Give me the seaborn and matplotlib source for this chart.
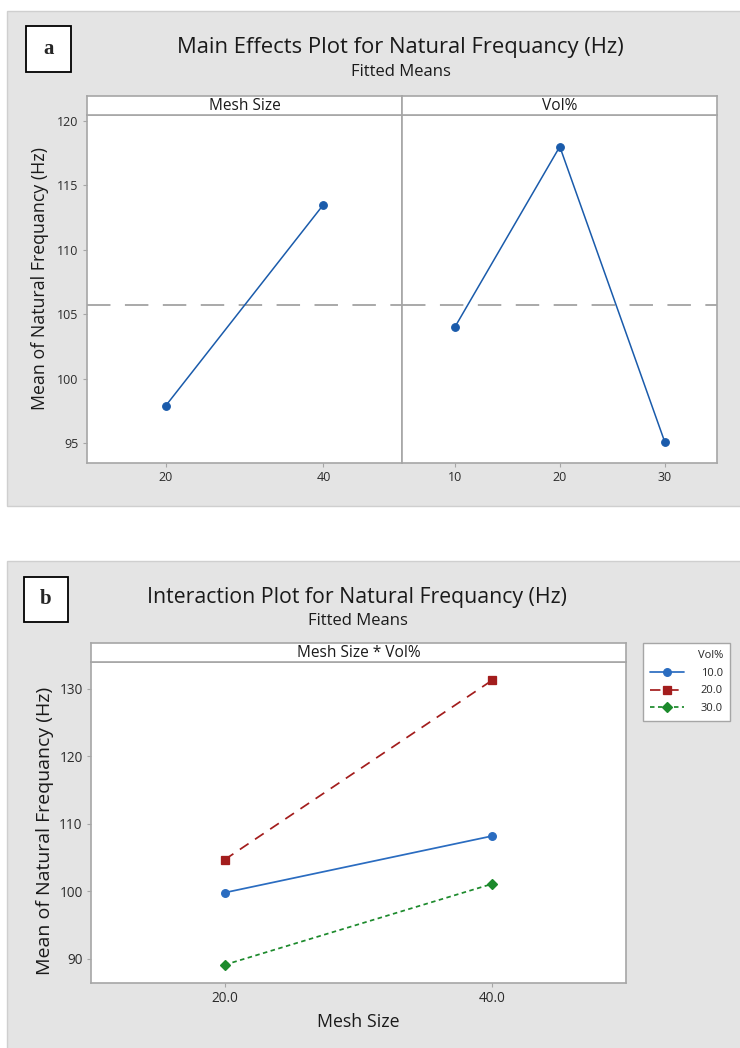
import numpy as np
import pandas as pd
import matplotlib
matplotlib.use("Agg")
import matplotlib.pyplot as plt
from matplotlib.patches import Rectangle
import seaborn as sns

# ---- data -------------------------------------------------------------
mesh_levels = ["20", "40"]
mesh_means = [97.9, 113.5]

vol_levels = ["10", "20", "30"]
vol_means = [104.0, 118.0, 95.1]

mesh_levels_b = ["20.0", "40.0"]
vol_levels_b = ["10.0", "20.0", "30.0"]
freq_vol10 = [99.8, 108.2]
freq_vol20 = [104.7, 131.3]
freq_vol30 = [89.1, 101.1]

yticks_a = [95, 100, 105, 110, 115, 120]
yticks_b = [90, 100, 110, 120, 130]

# ---- style ------------------------------------------------------------
sns.set_theme(style="white")
FONT = ["Open Sans", "DejaVu Sans"]
plt.rcParams["font.family"] = FONT
plt.rcParams["axes.edgecolor"] = "#a6a6a6"
plt.rcParams["axes.linewidth"] = 1.2

W, H = 740, 1048
fig = plt.figure(figsize=(W / 100, H / 100), dpi=100, facecolor="white")


def fx(x):
    return x / W


def fy(y):
    return 1 - y / H


def box(x0, y0, x1, y1):
    return [fx(x0), fy(y1), fx(x1) - fx(x0), fy(y0) - fy(y1)]


PANEL_BG = "#e4e4e4"
SPINE = "#a6a6a6"
TICK_TXT = "#2b2b2b"
TXT = "#1a1a1a"

# grey panel backgrounds
for (x0, y0, x1, y1) in [(7, 11, 742, 506), (7, 561, 742, 1050)]:
    fig.patches.append(Rectangle((fx(x0), fy(y1)), fx(x1) - fx(x0), fy(y0) - fy(y1),
                                 transform=fig.transFigure, facecolor=PANEL_BG,
                                 edgecolor="#cfcfcf", linewidth=1.0, zorder=-10))

# panel letters
for letter, (x0, y0, x1, y1) in [("a", (26, 26, 71, 72)), ("b", (24, 577, 68, 622))]:
    fig.patches.append(Rectangle((fx(x0), fy(y1)), fx(x1) - fx(x0), fy(y0) - fy(y1),
                                 transform=fig.transFigure, facecolor="white",
                                 edgecolor="black", linewidth=1.3, zorder=-5))
    fig.text(fx((x0 + x1) / 2), fy((y0 + y1) / 2), letter, ha="center", va="center",
             fontsize=15, fontweight="bold", family="Liberation Serif")


def style_axes(ax, tick_size):
    ax.set_facecolor("white")
    for s in ax.spines.values():
        s.set_color(SPINE)
        s.set_linewidth(1.2)
    ax.tick_params(axis="both", which="both", length=3, width=0.8, color=SPINE,
                   labelsize=tick_size, labelcolor=TICK_TXT, pad=3,
                   bottom=True, left=True)
    ax.set_xlabel("")
    ax.set_ylabel("")


def strip(x0, y0, x1, y1, text):
    sax = fig.add_axes(box(x0, y0, x1, y1))
    sax.set_facecolor("white")
    sax.set_xticks([])
    sax.set_yticks([])
    for s in sax.spines.values():
        s.set_color(SPINE)
        s.set_linewidth(1.2)
    sax.text(0.5, 0.47, text, ha="center", va="center", fontsize=11.2,
             color=TXT, transform=sax.transAxes)


# ---- panel a: main effects ----------------------------------------------
fig.text(fx(400), fy(47), "Main Effects Plot for Natural Frequancy (Hz)",
         ha="center", va="center", fontsize=15.8, color=TXT)
fig.text(fx(401), fy(72), "Fitted Means", ha="center", va="center",
         fontsize=12, color=TXT)

ax1 = fig.add_axes(box(86.7, 115, 402.3, 462.7))
ax2 = fig.add_axes(box(402.3, 115, 717.3, 462.7), sharey=ax1)
strip(86.7, 96, 402.3, 115, "Mesh Size")
strip(402.3, 96, 717.3, 115, "Vol%")

LINE_BLUE = "#1a5bab"
grand_mean = float(np.mean(mesh_means))

for ax, lev, vals in [(ax1, mesh_levels, mesh_means), (ax2, vol_levels, vol_means)]:
    sns.pointplot(x=lev, y=vals, ax=ax, color=LINE_BLUE, markers="o",
                  linestyles="-", errorbar=None, markersize=5.5, linewidth=1.1)
    ax.axhline(grand_mean, color="#a3a3a3", linewidth=1.3, dashes=(13, 8), zorder=0)
    style_axes(ax, 9)
    ax.set_xlim(-0.5, len(lev) - 0.5)

ax1.set_ylim(93.5, 120.45)
ax1.set_yticks(yticks_a)
ax1.set_yticklabels([str(t) for t in yticks_a])
ax2.tick_params(axis="y", left=False, labelleft=False)
ax1.set_ylabel("Mean of Natural Frequancy (Hz)", fontsize=12.8, color=TXT)
ax1.yaxis.set_label_coords(-0.121, 0.531)

# ---- panel b: interaction ---------------------------------------------
fig.text(fx(357), fy(598), "Interaction Plot for Natural Frequancy (Hz)",
         ha="center", va="center", fontsize=15.3, color=TXT)
fig.text(fx(358), fy(621), "Fitted Means", ha="center", va="center",
         fontsize=12, color=TXT)

df_b = pd.DataFrame({
    "Mesh Size": mesh_levels_b * 3,
    "Vol%": [v for v in vol_levels_b for _ in mesh_levels_b],
    "freq": freq_vol10 + freq_vol20 + freq_vol30,
})

axb = fig.add_axes(box(91, 662, 626, 983))
strip(91, 643, 626, 662, "Mesh Size * Vol%")

palette_b = {"10.0": "#2a6cc0", "20.0": "#a31d1d", "30.0": "#1c8a2c"}
sns.pointplot(data=df_b, x="Mesh Size", y="freq", hue="Vol%", hue_order=vol_levels_b,
              order=mesh_levels_b, palette=palette_b, markers=["o", "s", "D"],
              linestyles=["-", (0, (6, 4.5)), (0, (2.6, 2.0))],
              errorbar=None, markersize=5.5, linewidth=1.25, ax=axb)
style_axes(axb, 9.8)
axb.set_xlim(-0.5, 1.5)
axb.set_ylim(86.4, 134.0)
axb.set_yticks(yticks_b)
axb.set_yticklabels([str(t) for t in yticks_b])
axb.set_ylabel("Mean of Natural Frequancy (Hz)", fontsize=14, color=TXT)
axb.yaxis.set_label_coords(-0.070, 0.474)
axb.set_xlabel("Mesh Size", fontsize=12.8, color=TXT)
axb.xaxis.set_label_coords(0.5, -0.093)

sns.move_legend(axb, "upper left", bbox_to_anchor=(fx(643), fy(643)),
                bbox_transform=fig.transFigure, title="Vol%", frameon=True,
                fancybox=False, fontsize=8, title_fontsize=8,
                handlelength=3.1, handletextpad=1.5, borderpad=0.6,
                borderaxespad=0, labelspacing=0.62, alignment="right",
                framealpha=1.0)
leg = axb.get_legend()
leg.get_frame().set_edgecolor("#a6a6a6")
leg.get_frame().set_linewidth(1.0)
leg.get_frame().set_facecolor("white")

fig.savefig("out.png", dpi=100, facecolor="white")
